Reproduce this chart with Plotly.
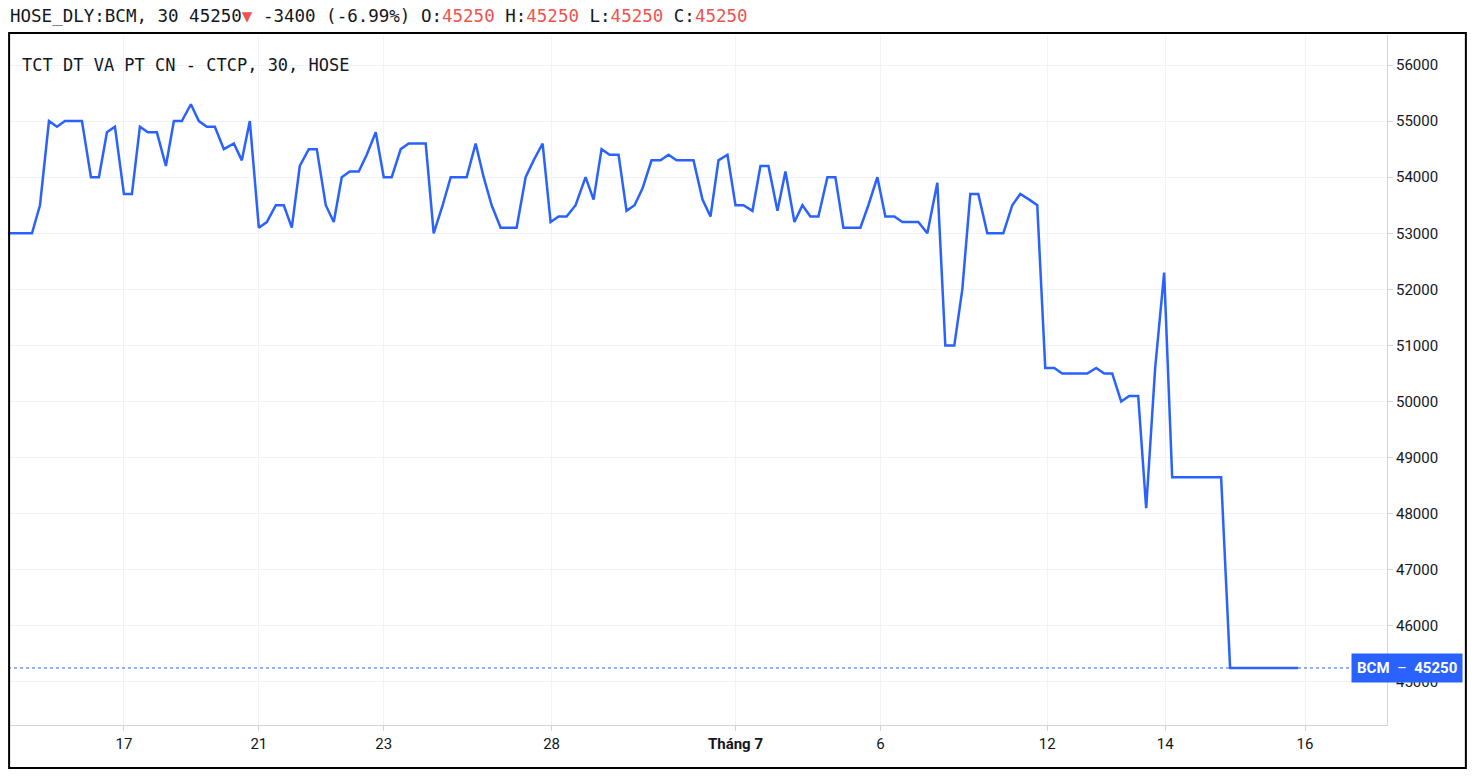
import plotly.graph_objects as go

# time position (bar axis units) and close price
t = [7, 31, 39, 48, 56, 64, 81, 90, 98, 106, 114, 123, 131, 139, 147, 156, 165, 173, 181, 190,
     198, 206, 214, 223, 233, 241, 249, 258, 266, 275, 283, 291, 299, 308, 316, 325, 333, 341, 349, 358,
     366, 375, 383, 391, 400, 408, 425, 433, 442, 450, 466, 475, 483, 491, 500, 516, 525, 533, 542, 550,
     558, 566, 575, 585, 593, 601, 609, 618, 626, 634, 642, 651, 660, 668, 676, 693, 702, 710, 718, 727,
     735, 743, 752, 760, 768, 777, 785, 794, 802, 810, 818, 827, 835, 843, 860, 868, 877, 885, 894, 902,
     918, 927, 937, 945, 954, 962, 970, 978, 987, 1003, 1012, 1020, 1029, 1037, 1045, 1054, 1062, 1087, 1096, 1104,
     1112, 1121, 1129, 1138, 1146, 1155, 1164, 1172, 1221, 1230, 1298]
price = [53000, 53000, 53500, 55000, 54900, 55000, 55000, 54000, 54000, 54800, 54900, 53700, 53700, 54900, 54800, 54800, 54200, 55000, 55000, 55300,
         55000, 54900, 54900, 54500, 54600, 54300, 55000, 53100, 53200, 53500, 53500, 53100, 54200, 54500, 54500, 53500, 53200, 54000, 54100, 54100,
         54400, 54800, 54000, 54000, 54500, 54600, 54600, 53000, 53500, 54000, 54000, 54600, 54000, 53500, 53100, 53100, 54000, 54300, 54600, 53200,
         53300, 53300, 53500, 54000, 53600, 54500, 54400, 54400, 53400, 53500, 53800, 54300, 54300, 54400, 54300, 54300, 53600, 53300, 54300, 54400,
         53500, 53500, 53400, 54200, 54200, 53400, 54100, 53200, 53500, 53300, 53300, 54000, 54000, 53100, 53100, 53500, 54000, 53300, 53300, 53200,
         53200, 53000, 53900, 51000, 51000, 52000, 53700, 53700, 53000, 53000, 53500, 53700, 53600, 53500, 50600, 50600, 50500, 50500, 50600, 50500,
         50500, 50000, 50100, 50100, 48100, 50600, 52300, 48650, 48650, 45250, 45250]

tick_pos = [123, 258, 383, 551, 735, 880, 1047, 1165, 1305]
tick_text = ["17", "21", "23", "28", "<b>Tháng 7</b>", "6", "12", "14", "16"]
last = 45250

blue = "#2962ff"
fig = go.Figure()
fig.add_trace(go.Scatter(x=t, y=price, mode="lines", line=dict(color=blue, width=2.5),
                         hoverinfo="y"))
fig.add_hline(y=last, line=dict(color=blue, width=1, dash="dot"))

fig.update_layout(
    width=1475, height=777, showlegend=False,
    margin=dict(l=0, r=96, t=27, b=60, autoexpand=False),
    plot_bgcolor="white", paper_bgcolor="white",
    font=dict(family="Roboto, sans-serif", size=15, color="#131722"),
    xaxis=dict(range=[7, 1387], tickvals=tick_pos, ticktext=tick_text, automargin=False,
               showgrid=True, gridcolor="#f0f3fa", zeroline=False,
               showline=True, linecolor="#d1d4dc", ticks="outside", ticklen=5, tickcolor="#d1d4dc"),
    yaxis=dict(range=[44233, 56535], side="right", dtick=1000, tickformat="d", automargin=False,
               showgrid=True, gridcolor="#f0f3fa", zeroline=False,
               showline=True, linecolor="#d1d4dc", ticks="outside", ticklen=5, tickcolor="#d1d4dc"),
)

# outer black frame
fig.add_shape(type="rect", xref="paper", yref="paper", x0=0.0008, x1=1.0572, y0=-0.0623, y1=1.0029,
              line=dict(color="black", width=2))

red = "#ef5350"
header = ("HOSE_DLY:BCM, 30 45250<span style='color:%s'>▼</span> -3400 (-6.99%%) "
          "O:<span style='color:%s'>45250</span> H:<span style='color:%s'>45250</span> "
          "L:<span style='color:%s'>45250</span> C:<span style='color:%s'>45250</span>") % ((red,) * 5)
fig.add_annotation(text=header, xref="paper", yref="paper", x=0.0, y=1.027,
                   xanchor="left", yanchor="middle", showarrow=False,
                   font=dict(family="DejaVu Sans Mono", size=17.5, color="#131722"))
fig.add_annotation(text="TCT DT VA PT CN - CTCP, 30, HOSE", xref="paper", yref="paper",
                   x=0.009, y=0.957, xanchor="left", yanchor="middle", showarrow=False,
                   font=dict(family="DejaVu Sans Mono", size=17, color="#131722"))
fig.add_annotation(text="<b>BCM</b>  –  <b>45250</b>", xref="paper", yref="y", x=1.0552, y=last,
                   xanchor="right", yanchor="middle", showarrow=False, bgcolor=blue,
                   borderpad=5, font=dict(color="white", size=15, family="Roboto"))

fig.write_html("out.html")
